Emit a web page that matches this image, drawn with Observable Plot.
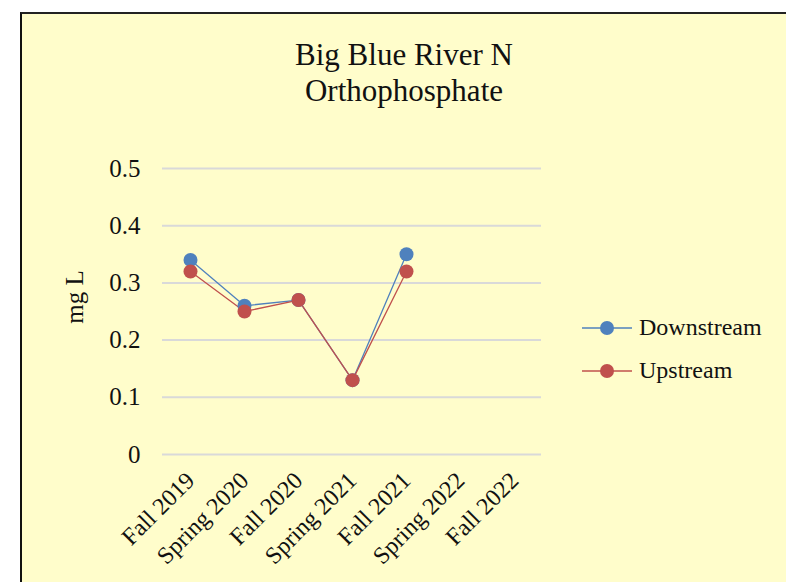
<!DOCTYPE html>
<html>
<head>
<meta charset="utf-8">
<script src="https://cdn.jsdelivr.net/npm/d3@7"></script>
<script src="https://cdn.jsdelivr.net/npm/@observablehq/plot@0.6"></script>
<style>
  html, body { margin: 0; padding: 0; background: #ffffff; }
  body { width: 786px; height: 582px; overflow: hidden; position: relative; font-family: "Liberation Serif", "Times New Roman", serif; }
  #frame { position: absolute; left: 20px; top: 12px; width: 820px; height: 620px; background: #FFFDCB; border-left: 2px solid #111; border-top: 2px solid #222; }
  #title { position: absolute; left: 0; width: 808px; top: 37px; text-align: center; font-size: 31px; line-height: 36px; color: #111; }
  #chart { position: absolute; left: 0; top: 0; }
  #ylabel { position: absolute; left: 75px; top: 297px; transform: translate(-50%, -50%) rotate(-90deg); font-size: 25px; white-space: nowrap; color: #111; }
  #legend { position: absolute; left: 582px; top: 306px; font-size: 24px; color: #111; }
  .item { display: flex; align-items: center; height: 43px; }
  .item svg { margin-right: 7px; }
</style>
</head>
<body>
<div id="frame"></div>
<div id="title">Big Blue River N<br>Orthophosphate</div>
<div id="chart"></div>
<div id="ylabel">mg L</div>
<div id="legend"></div>
<script>
const categories = ["Fall 2019", "Spring 2020", "Fall 2020", "Spring 2021", "Fall 2021", "Spring 2022", "Fall 2022"];
const measured = ["Fall 2019", "Spring 2020", "Fall 2020", "Spring 2021", "Fall 2021"];
const downstream = [0.34, 0.26, 0.27, 0.13, 0.35];
const upstream = [0.32, 0.25, 0.27, 0.13, 0.32];
const yTicks = [0, 0.1, 0.2, 0.3, 0.4, 0.5];
const seriesNames = ["Downstream", "Upstream"];
const seriesColors = ["#4F81BD", "#C0504D"];

const data = [];
measured.forEach((c, i) => {
  data.push({period: c, value: downstream[i], series: seriesNames[0]});
});
measured.forEach((c, i) => {
  data.push({period: c, value: upstream[i], series: seriesNames[1]});
});

const chart = Plot.plot({
  width: 786,
  height: 582,
  marginLeft: 162,
  marginRight: 245,
  marginTop: 168,
  marginBottom: 128,
  style: {background: "transparent", fontFamily: "'Liberation Serif', 'Times New Roman', serif", color: "#111"},
  x: {type: "point", domain: categories, padding: 0.5},
  y: {domain: [0, 0.5]},
  color: {domain: seriesNames, range: seriesColors},
  marks: [
    Plot.gridY(yTicks, {stroke: "#d9d9d9", strokeOpacity: 1, strokeWidth: 2}),
    Plot.axisY(yTicks, {tickSize: 0, tickPadding: 22, fontSize: 25, tickFormat: d => String(d), label: null}),
    Plot.axisX({tickSize: 0, tickRotate: -45, tickPadding: 22, fontSize: 24, label: null}),
    Plot.line(data, {x: "period", y: "value", z: "series", stroke: "series", strokeWidth: 1.3}),
    Plot.dot(data, {x: "period", y: "value", fill: "series", r: 7})
  ]
});
document.getElementById("chart").appendChild(chart);

const legend = document.getElementById("legend");
seriesNames.forEach((name, i) => {
  const item = document.createElement("div");
  item.className = "item";
  item.innerHTML = `<svg width="50" height="16"><line x1="0" x2="50" y1="8" y2="8" stroke="${seriesColors[i]}" stroke-width="1.3"/><circle cx="25" cy="8" r="7" fill="${seriesColors[i]}"/></svg><span>${name}</span>`;
  legend.appendChild(item);
});
</script>
</body>
</html>
